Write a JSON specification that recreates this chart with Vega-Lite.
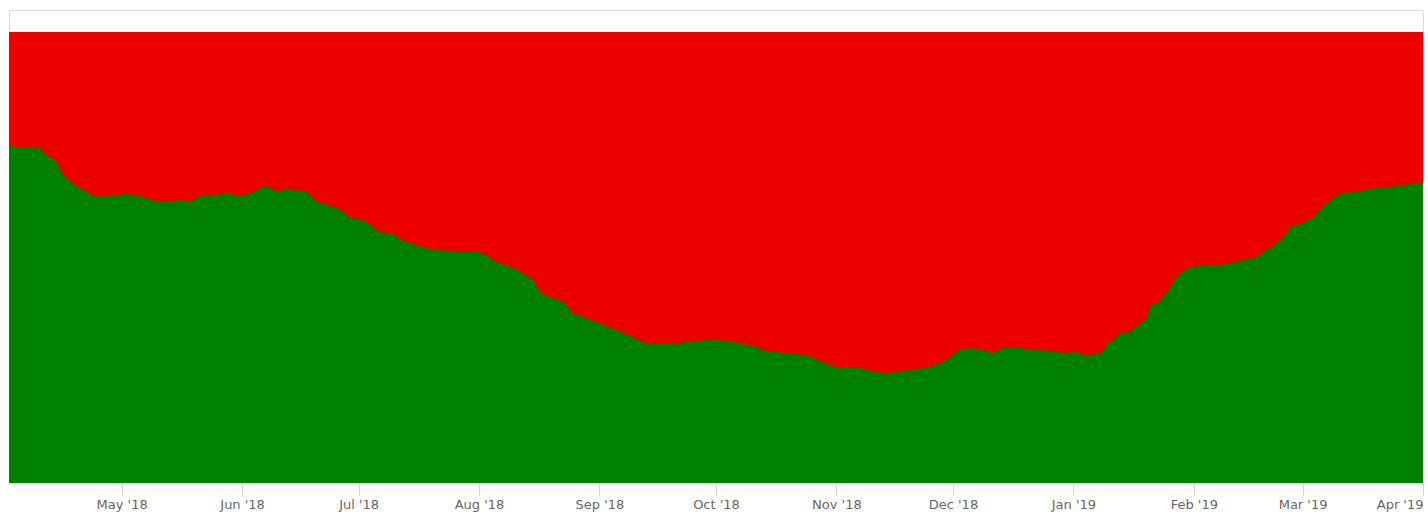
{
  "$schema": "https://vega.github.io/schema/vega-lite/v6.json",
  "width": 1414,
  "height": 473,
  "autosize": {"type": "none"},
  "padding": {"left": 9, "top": 10, "right": 5, "bottom": 37},
  "background": "white",
  "config": {"view": {"stroke": "#dcdcdc", "strokeWidth": 1}},
  "data": {"values": [
    {"date": "2018-04-02", "pct": 74.9},
    {"date": "2018-04-05", "pct": 74.3},
    {"date": "2018-04-10", "pct": 74.3},
    {"date": "2018-04-12", "pct": 72.5},
    {"date": "2018-04-14", "pct": 71.6},
    {"date": "2018-04-16", "pct": 68.3},
    {"date": "2018-04-18", "pct": 66.7},
    {"date": "2018-04-20", "pct": 65.6},
    {"date": "2018-04-24", "pct": 63.6},
    {"date": "2018-04-28", "pct": 63.6},
    {"date": "2018-05-02", "pct": 64.1},
    {"date": "2018-05-06", "pct": 63.6},
    {"date": "2018-05-10", "pct": 62.5},
    {"date": "2018-05-13", "pct": 62.3},
    {"date": "2018-05-16", "pct": 62.7},
    {"date": "2018-05-19", "pct": 62.5},
    {"date": "2018-05-21", "pct": 63.6},
    {"date": "2018-05-26", "pct": 63.9},
    {"date": "2018-05-28", "pct": 64.3},
    {"date": "2018-05-31", "pct": 63.6},
    {"date": "2018-06-03", "pct": 64.1},
    {"date": "2018-06-07", "pct": 65.9},
    {"date": "2018-06-10", "pct": 64.7},
    {"date": "2018-06-13", "pct": 65.2},
    {"date": "2018-06-18", "pct": 64.5},
    {"date": "2018-06-20", "pct": 62.5},
    {"date": "2018-06-22", "pct": 61.9},
    {"date": "2018-06-26", "pct": 60.8},
    {"date": "2018-06-29", "pct": 58.8},
    {"date": "2018-07-02", "pct": 58.3},
    {"date": "2018-07-04", "pct": 57.4},
    {"date": "2018-07-06", "pct": 55.7},
    {"date": "2018-07-10", "pct": 55.2},
    {"date": "2018-07-12", "pct": 53.9},
    {"date": "2018-07-15", "pct": 53.0},
    {"date": "2018-07-17", "pct": 52.5},
    {"date": "2018-07-20", "pct": 51.7},
    {"date": "2018-07-26", "pct": 51.4},
    {"date": "2018-07-30", "pct": 51.4},
    {"date": "2018-08-02", "pct": 51.0},
    {"date": "2018-08-06", "pct": 48.8},
    {"date": "2018-08-10", "pct": 47.7},
    {"date": "2018-08-13", "pct": 46.1},
    {"date": "2018-08-15", "pct": 45.0},
    {"date": "2018-08-17", "pct": 42.1},
    {"date": "2018-08-20", "pct": 41.0},
    {"date": "2018-08-23", "pct": 40.1},
    {"date": "2018-08-25", "pct": 37.7},
    {"date": "2018-08-28", "pct": 36.8},
    {"date": "2018-08-30", "pct": 36.1},
    {"date": "2018-09-04", "pct": 34.4},
    {"date": "2018-09-08", "pct": 33.0},
    {"date": "2018-09-13", "pct": 31.0},
    {"date": "2018-09-17", "pct": 30.8},
    {"date": "2018-09-21", "pct": 30.8},
    {"date": "2018-09-23", "pct": 31.3},
    {"date": "2018-09-29", "pct": 31.7},
    {"date": "2018-10-05", "pct": 31.5},
    {"date": "2018-10-07", "pct": 31.0},
    {"date": "2018-10-11", "pct": 30.4},
    {"date": "2018-10-13", "pct": 29.5},
    {"date": "2018-10-17", "pct": 29.0},
    {"date": "2018-10-21", "pct": 28.6},
    {"date": "2018-10-25", "pct": 28.2},
    {"date": "2018-10-29", "pct": 26.6},
    {"date": "2018-11-01", "pct": 25.7},
    {"date": "2018-11-06", "pct": 25.7},
    {"date": "2018-11-11", "pct": 24.6},
    {"date": "2018-11-14", "pct": 24.4},
    {"date": "2018-11-17", "pct": 24.6},
    {"date": "2018-11-22", "pct": 25.3},
    {"date": "2018-11-25", "pct": 25.7},
    {"date": "2018-11-28", "pct": 26.6},
    {"date": "2018-11-30", "pct": 27.7},
    {"date": "2018-12-03", "pct": 29.7},
    {"date": "2018-12-06", "pct": 29.9},
    {"date": "2018-12-09", "pct": 29.5},
    {"date": "2018-12-11", "pct": 28.8},
    {"date": "2018-12-14", "pct": 29.9},
    {"date": "2018-12-17", "pct": 30.2},
    {"date": "2018-12-21", "pct": 29.5},
    {"date": "2018-12-27", "pct": 29.3},
    {"date": "2018-12-29", "pct": 28.8},
    {"date": "2019-01-01", "pct": 29.0},
    {"date": "2019-01-03", "pct": 28.8},
    {"date": "2019-01-04", "pct": 28.2},
    {"date": "2019-01-08", "pct": 28.8},
    {"date": "2019-01-09", "pct": 29.7},
    {"date": "2019-01-10", "pct": 31.0},
    {"date": "2019-01-12", "pct": 32.2},
    {"date": "2019-01-13", "pct": 33.3},
    {"date": "2019-01-15", "pct": 33.3},
    {"date": "2019-01-17", "pct": 34.4},
    {"date": "2019-01-20", "pct": 36.6},
    {"date": "2019-01-21", "pct": 39.5},
    {"date": "2019-01-23", "pct": 40.1},
    {"date": "2019-01-25", "pct": 42.1},
    {"date": "2019-01-28", "pct": 46.1},
    {"date": "2019-01-31", "pct": 47.9},
    {"date": "2019-02-03", "pct": 48.1},
    {"date": "2019-02-08", "pct": 48.3},
    {"date": "2019-02-12", "pct": 49.0},
    {"date": "2019-02-15", "pct": 49.7},
    {"date": "2019-02-17", "pct": 49.9},
    {"date": "2019-02-20", "pct": 51.9},
    {"date": "2019-02-21", "pct": 52.1},
    {"date": "2019-02-24", "pct": 54.3},
    {"date": "2019-02-26", "pct": 56.8},
    {"date": "2019-03-01", "pct": 57.6},
    {"date": "2019-03-04", "pct": 59.0},
    {"date": "2019-03-06", "pct": 61.0},
    {"date": "2019-03-09", "pct": 63.2},
    {"date": "2019-03-11", "pct": 64.3},
    {"date": "2019-03-15", "pct": 64.5},
    {"date": "2019-03-18", "pct": 65.2},
    {"date": "2019-03-23", "pct": 65.6},
    {"date": "2019-03-27", "pct": 66.1},
    {"date": "2019-04-01", "pct": 66.7}
  ]},
  "encoding": {
    "x": {
      "field": "date",
      "type": "temporal",
      "scale": {
        "type": "utc",
        "domain": [
          {"year": 2018, "month": 4, "date": 2, "utc": true},
          {"year": 2019, "month": 4, "date": 1, "utc": true}
        ]
      },
      "axis": {
        "title": null,
        "format": "%b '%y",
        "tickCount": {"interval": "month", "step": 1},
        "grid": false,
        "domainColor": "#ccd6eb",
        "tickColor": "#ccd6eb",
        "tickSize": 12,
        "labelPadding": 3,
        "labelFont": "DejaVu Sans",
        "labelFontSize": 13,
        "labelColor": "#666666",
        "labelFlush": true,
        "labelOverlap": false
      }
    }
  },
  "layer": [
    {
      "mark": {"type": "area", "color": "#ee0000", "interpolate": "linear"},
      "encoding": {
        "y": {"datum": 100, "type": "quantitative", "scale": {"domain": [0, 104.88], "nice": false, "zero": true}, "axis": null}
      }
    },
    {
      "mark": {"type": "area", "color": "#008000", "interpolate": "linear"},
      "encoding": {
        "y": {"field": "pct", "type": "quantitative", "scale": {"domain": [0, 104.88], "nice": false, "zero": true}, "axis": null}
      }
    }
  ]
}
